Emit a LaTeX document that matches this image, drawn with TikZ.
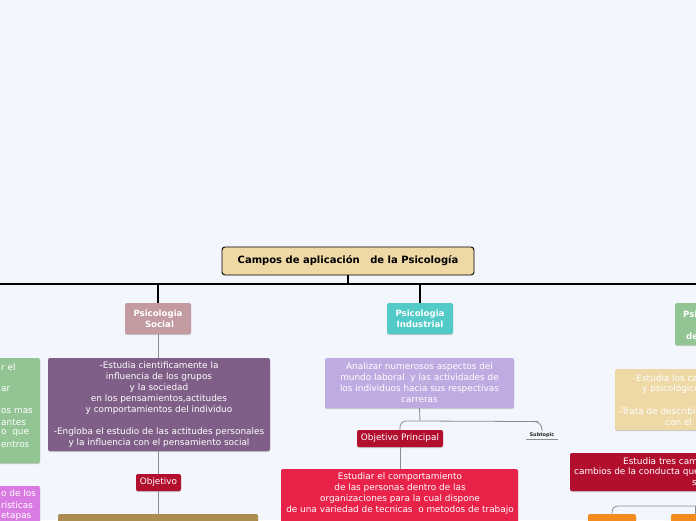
\documentclass[tikz,border=0pt]{standalone}
\usepackage{fontspec}
\setmainfont{DejaVu Sans}
\usepackage{xcolor}
\definecolor{fondo}{HTML}{F4F6FE}
\definecolor{trigo}{HTML}{EDD8A6}
\definecolor{rosado}{HTML}{C29AA0}
\definecolor{turquesa}{HTML}{52CBC8}
\definecolor{verde}{HTML}{93C594}
\definecolor{morado}{HTML}{7F5F88}
\definecolor{carmin}{HTML}{B20E2E}
\definecolor{lavanda}{HTML}{BFABE1}
\definecolor{rojo}{HTML}{E92249}
\definecolor{ocre}{HTML}{AC8D4F}
\definecolor{naranja}{HTML}{F38B1E}
\definecolor{lila}{HTML}{D97BE3}

\begin{document}
\begin{tikzpicture}[x=1pt,y=-1pt,
  caja/.style={rectangle,rounded corners=2pt,inner sep=0pt,text=white,align=center,
    font=\fontsize{8.9}{11}\selectfont,
    preaction={fill=black!22,transform canvas={yshift=-1pt}}},
  tema/.style={caja,font=\bfseries\fontsize{8.6}{11}\selectfont},
  texto/.style={anchor=west,inner sep=0pt,text=white,font=\fontsize{8.9}{11}\selectfont},
  rama/.style={draw=black,line width=2.6pt},
  enlace/.style={draw=black!45,line width=0.8pt}]
\path[use as bounding box,fill=fondo] (0,0) rectangle (696,520);
\clip (0,0) rectangle (696,520);

% tema central
\node[rectangle,draw=black,line width=0.9pt,rounded corners=3pt,fill=trigo,
  font=\bfseries\fontsize{10}{12}\selectfont,minimum width=252,minimum height=28]
  (raiz) at (348,261) {Campos de aplicación \ \ de la Psicología};
\coordinate (barI) at (0,284);
\coordinate (barD) at (696,284);
\draw[rama] (barI) -- (barD);
\draw[rama] (raiz.south) -- (raiz.south |- barI);

% ramas principales
\node[tema,fill=rosado,minimum width=66,minimum height=31] (social) at (158,318.5) {Psicologia\\ \ Social};
\node[tema,fill=turquesa,minimum width=66,minimum height=31] (industrial) at (420,318.5) {Psicologia\\Industrial};
\node[tema,fill=verde,minimum width=85,minimum height=42] (desarrollo) at (717.5,324) {};
\node[texto,font=\bfseries\fontsize{8.6}{11}\selectfont] (desT1) at (683,314) {Psi};
\node[texto,font=\bfseries\fontsize{8.6}{11}\selectfont] (desT2) at (686,336) {de};
\foreach \n in {social,industrial,desarrollo}
  \draw[rama] (\n.north |- barI) -- (\n.north);

% psicologia social
\node[caja,fill=morado,minimum width=222,minimum height=93] (socDesc) at (159,404.5)
  {-Estudia cientificamente la\\influencia de los grupos\\y la sociedad\\en los pensamientos,actitudes\\y comportamientos del individuo\\[11pt]-Engloba el estudio de las actitudes personales\\y la influencia con el pensamiento social};
\node[caja,fill=carmin,minimum width=45,minimum height=17] (socObj) at (158.5,482.5) {Objetivo};
\node[caja,fill=ocre,minimum width=200,minimum height=52] (socMeta) at (158,540) {};
\draw[enlace] (social.south) -- (socDesc.north -| social.south);
\draw[enlace] (socDesc.south -| socObj.north) -- (socObj.north);
\draw[enlace] (socObj.south) -- (socMeta.north -| socObj.south);

% psicologia industrial
\node[caja,fill=lavanda,minimum width=189,minimum height=50] (indDesc) at (419.5,383)
  {Analizar numerosos aspectos del\\mundo laboral \ y las actividades de\\los individuos hacia sus respectivas\\carreras};
\coordinate (bif) at (420,421);
\node[caja,fill=carmin,minimum width=86,minimum height=17] (indObj) at (400,438.5) {Objetivo Principal};
\node[anchor=north,inner xsep=3pt,inner ysep=1.5pt,font=\bfseries\fontsize{5}{5}\selectfont,text=black!85] (subtema) at (542,431) {Subtopic};
\draw[black!45,line width=0.7pt] (subtema.south west) -- (subtema.south east);
\node[caja,fill=rojo,minimum width=237,minimum height=82] (indMeta) at (399.5,510) {};
\node[anchor=north,inner sep=0pt,align=center,text=white,font=\fontsize{8.9}{11}\selectfont] (indTexto) at (400,472.5)
  {Estudiar el comportamiento\\de las personas dentro de las\\organizaciones para la cual dispone\\de una variedad de tecnicas \ o metodos de trabajo};
\draw[enlace] (indDesc.south) -- (bif);
\draw[enlace,rounded corners=6pt] (bif) -| (indObj.north);
\draw[enlace,rounded corners=8pt] (bif) -- (530,421.5) -| (subtema.north);
\draw[enlace] (indObj.south) -- (indMeta.north -| indObj.south);

% psicologia del desarrollo (recortada)
\node[caja,fill=trigo,minimum width=165,minimum height=61] (desDesc) at (697.5,399.5) {};
\node[texto] (dd1) at (633,378) {-Estudia los ca};
\node[texto] (dd2) at (642,389) {y psicológicos};
\node[texto] (dd3) at (619,411) {-Trata de describi};
\node[texto] (dd4) at (665,422) {con el};
\node[caja,fill=carmin,minimum width=250,minimum height=38] (desCamb) at (695,472) {};
\node[texto] (dc1) at (623,461) {Estudia tres cam};
\node[texto] (dc2) at (574,472) {cambios de la conducta que};
\node[texto] (dc3) at (692,483) {s};
\node[caja,fill=naranja,minimum width=48,minimum height=20] (etapa1) at (612,524) {};
\node[caja,fill=naranja,minimum width=48,minimum height=20] (etapa2) at (695,524) {};
\coordinate (bif2) at (760,506);
\draw[enlace,rounded corners=6pt] (bif2) -| (etapa1.north);
\draw[enlace] (etapa2.north) -- (etapa2.north |- bif2);

% ramas de la izquierda (recortadas)
\node[caja,fill=verde,minimum width=120,minimum height=105] (izqVerde) at (-20,410.5) {};
\node[texto] (iv1) at (1,367) {r el};
\node[texto] (iv2) at (1,389) {ar};
\node[texto] (iv3) at (1,411) {os mas};
\node[texto] (iv4) at (1,422) {antes};
\node[texto] (iv5) at (1,433) {o \ que};
\node[texto] (iv6) at (1,444) {entros};
\node[caja,fill=lila,minimum width=120,minimum height=64] (izqLila) at (-20,518) {};
\node[texto] (il1) at (1,493) {o de los};
\node[texto] (il2) at (1,505) {risticas};
\node[texto] (il3) at (1,516) {etapas};
\end{tikzpicture}
\end{document}
